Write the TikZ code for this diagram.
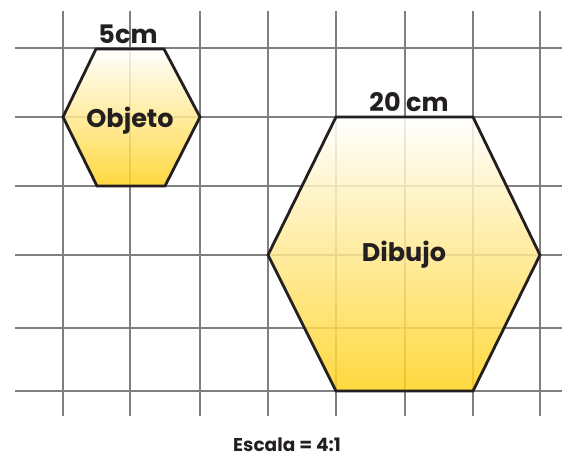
\documentclass[tikz,border=0pt]{standalone}
\usepackage{fontspec}
\setmainfont{Poppins}
\usetikzlibrary{positioning}

\definecolor{gridgray}{HTML}{808080}
\definecolor{hexline}{HTML}{231F20}
\definecolor{hexyellow}{HTML}{FFD21E}

\begin{document}
\begin{tikzpicture}[
    x = 1pt, y = -1pt,
    gridline/.style = {draw=gridgray, line width=1.3pt},
    hexagon/.style = {
        draw=hexline, line width=2.8pt, line join=miter,
        top color=white, bottom color=hexyellow, fill opacity=0.85
    },
    hexlabel/.style = {text=hexline, inner sep=0pt, font=\bfseries\fontsize{25.5}{25.5}\selectfont},
    scalelabel/.style = {text=hexline, inner sep=0pt, font=\bfseries\fontsize{18.5}{18.5}\selectfont}
  ]
    \useasboundingbox (0,0) rectangle (562,457);

    % cuadricula
    \foreach \gx in {63, 130, 200, 268, 336, 405, 473, 540}
        \draw[gridline] (\gx,11) -- (\gx,416);
    \foreach \gy in {48, 117, 186, 255, 328, 391}
        \draw[gridline] (15,\gy) -- (562,\gy);

    % objeto y dibujo
    \draw[hexagon] (96,49) -- (164,49) -- (200,117) -- (165,186) -- (97,186) -- (63,117) -- cycle;
    \draw[hexagon] (336,117) -- (473,117) -- (540,255) -- (473,391) -- (336,391) -- (268,255) -- cycle;

    % textos
    \node[hexlabel] (lado5) at (128,34) {5cm};
    \node[hexlabel] (objeto) at (130,121) {Objeto};
    \node[hexlabel] (lado20) at (409,102) {20 cm};
    \node[hexlabel] (dibujo) at (404,255) {Dibujo};
    \node[scalelabel] (escala) at (287,445) {Escala = 4:1};
\end{tikzpicture}
\end{document}
